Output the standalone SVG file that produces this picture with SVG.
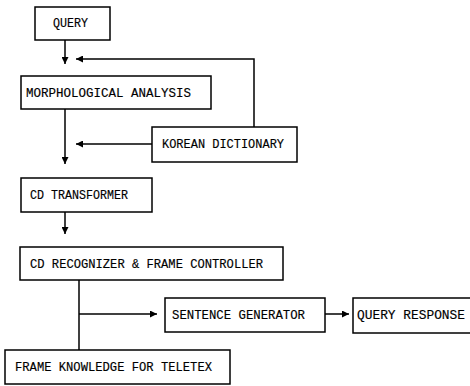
<svg xmlns="http://www.w3.org/2000/svg" width="470" height="386" viewBox="0 0 470 386">
<defs>
<marker id="ah" viewBox="0 0 10 10" refX="10" refY="5" markerWidth="7" markerHeight="7" markerUnits="userSpaceOnUse" orient="auto">
<path d="M0,0 L10,5 L0,10 z" fill="#000"/>
</marker>
<style>
.box{fill:#fff;stroke:#000;stroke-width:1.5}
.t{font-family:"Liberation Mono","DejaVu Sans Mono",monospace;font-size:12px;fill:#000;stroke:#000;stroke-width:0.15}
.c{fill:none;stroke:#000;stroke-width:1.5}
.a{marker-end:url(#ah)}
</style>
</defs>
<rect width="470" height="386" fill="#fff"/>
<g id="connectors">
<line class="c a" x1="65" y1="40" x2="65" y2="64"/>
<path class="c a" d="M254,127 V59 H76"/>
<line class="c a" x1="65" y1="109" x2="65" y2="164"/>
<line class="c a" x1="152" y1="144" x2="76" y2="144"/>
<line class="c a" x1="65" y1="212" x2="65" y2="234"/>
<line class="c" x1="79" y1="280" x2="79" y2="350"/>
<line class="c a" x1="79" y1="314" x2="157" y2="314"/>
<line class="c a" x1="325" y1="314" x2="349" y2="314"/>
</g>
<g id="query">
<rect class="box" x="35" y="7" width="75" height="33"/>
<text class="t" x="53" y="27" textLength="35" lengthAdjust="spacingAndGlyphs">QUERY</text>
</g>
<g id="morph">
<rect class="box" x="21" y="76" width="190" height="33"/>
<text class="t" x="26" y="97" textLength="165" lengthAdjust="spacingAndGlyphs">MORPHOLOGICAL ANALYSIS</text>
</g>
<g id="korean-dictionary">
<rect class="box" x="152" y="127" width="145" height="35"/>
<text class="t" x="162" y="148" textLength="122" lengthAdjust="spacingAndGlyphs">KOREAN DICTIONARY</text>
</g>
<g id="cd-transformer">
<rect class="box" x="21" y="178" width="131" height="34"/>
<text class="t" x="30" y="199" textLength="98" lengthAdjust="spacingAndGlyphs">CD TRANSFORMER</text>
</g>
<g id="cd-recognizer">
<rect class="box" x="20" y="247" width="263" height="33"/>
<text class="t" x="30" y="268" textLength="233" lengthAdjust="spacingAndGlyphs">CD RECOGNIZER &amp; FRAME CONTROLLER</text>
</g>
<g id="sentence-generator">
<rect class="box" x="165" y="298" width="160" height="34"/>
<text class="t" x="172" y="319" textLength="133" lengthAdjust="spacingAndGlyphs">SENTENCE GENERATOR</text>
</g>
<g id="query-response">
<rect class="box" x="353" y="298" width="130" height="35"/>
<text class="t" x="357" y="319" textLength="108" lengthAdjust="spacingAndGlyphs">QUERY RESPONSE</text>
</g>
<g id="frame-knowledge">
<rect class="box" x="5" y="350" width="225" height="34"/>
<text class="t" x="15" y="371" textLength="197" lengthAdjust="spacingAndGlyphs">FRAME KNOWLEDGE FOR TELETEX</text>
</g>
</svg>
